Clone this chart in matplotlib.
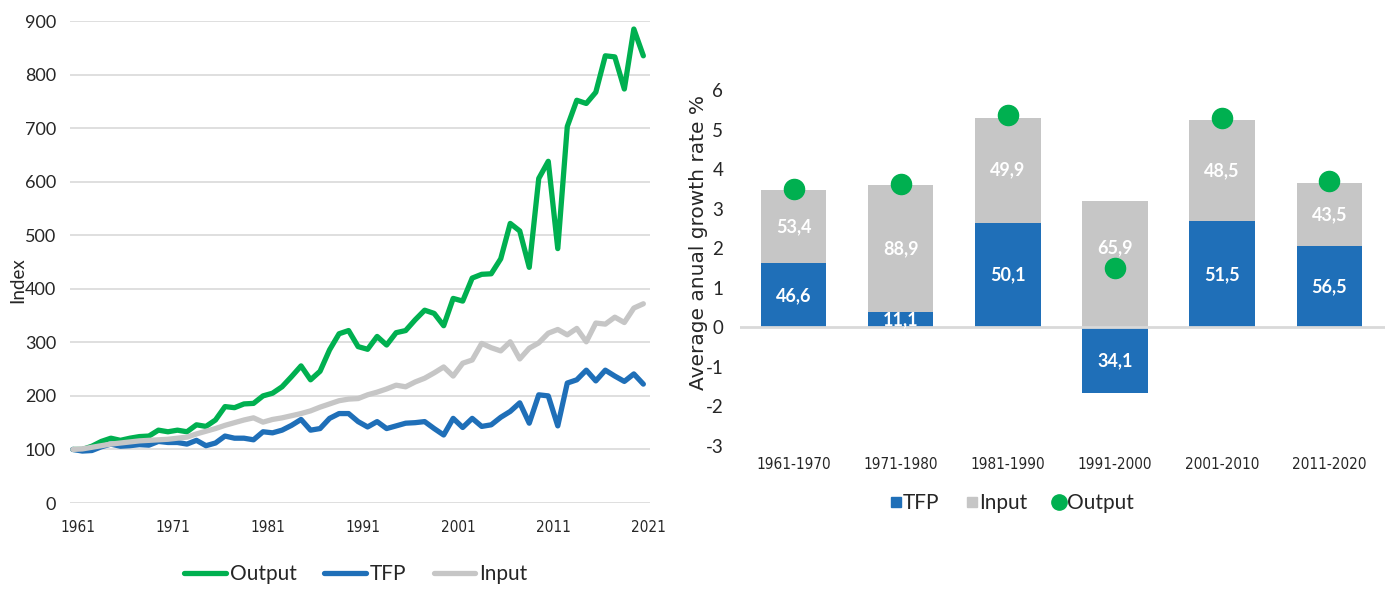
import matplotlib
matplotlib.use("Agg")
import matplotlib.pyplot as plt
import numpy as np
from matplotlib.lines import Line2D
from matplotlib.transforms import ScaledTranslation

# ---------------- data ----------------
years = list(range(1961, 2022))
output_index = [100, 100, 106, 115, 121, 117, 121, 124, 125, 136,
                133, 136, 133, 146, 143, 155, 180, 178, 185, 186,
                200, 205, 217, 236, 256, 230, 246, 286, 316, 322,
                292, 287, 311, 295, 318, 322, 342, 360, 354, 331,
                382, 377, 420, 427, 428, 456, 522, 508, 440, 606,
                638, 475, 703, 752, 746, 767, 835, 833, 773, 885,
                835]
tfp_index = [100, 97, 98, 105, 110, 106, 107, 109, 108, 115,
             113, 113, 110, 117, 107, 112, 125, 121, 121, 118,
             133, 131, 136, 145, 156, 136, 139, 158, 167, 167,
             152, 142, 152, 139, 144, 149, 150, 152, 139, 127,
             158, 141, 158, 143, 146, 160, 171, 187, 149, 202,
             200, 144, 224, 230, 248, 228, 248, 237, 227, 241,
             222]
input_index = [100, 101, 104, 107, 110, 112, 114, 116, 117, 118,
               119, 121, 123, 129, 134, 139, 145, 150, 155, 159,
               151, 156, 159, 163, 167, 172, 179, 185, 191, 194,
               195, 202, 207, 213, 220, 217, 226, 233, 243, 254,
               237, 261, 267, 298, 290, 284, 301, 269, 289, 299,
               317, 324, 314, 326, 301, 336, 334, 347, 337, 364,
               372]
year_ticks = [1961, 1971, 1981, 1991, 2001, 2011, 2021]
index_ticks = list(range(0, 1000, 100))

periods = ["1961-1970", "1971-1980", "1981-1990", "1991-2000", "2001-2010", "2011-2020"]
tfp_growth = [1.62, 0.38, 2.65, -1.67, 2.68, 2.05]
input_growth = [1.86, 3.23, 2.65, 3.20, 2.55, 1.61]
output_growth = [3.50, 3.63, 5.38, 1.49, 5.30, 3.69]
tfp_share = ["46,6", "11,1", "50,1", "34,1", "51,5", "56,5"]
input_share = ["53,4", "88,9", "49,9", "65,9", "48,5", "43,5"]
growth_ticks = list(range(-3, 7))

# ---------------- style ----------------
GREEN = "#00B050"
BLUE = "#1F6FB8"
GRAY = "#C6C6C6"
GRID = "#D9D9D9"
TEXT = "#262626"

plt.rcParams["font.family"] = ["Lato", "DejaVu Sans"]
plt.rcParams["axes.unicode_minus"] = False
plt.rcParams["text.color"] = TEXT
plt.rcParams["xtick.color"] = TEXT
plt.rcParams["ytick.color"] = TEXT

W, H = 1387, 589
fig = plt.figure(figsize=(W / 100, H / 100), dpi=100)

# ---------------- left: index lines ----------------
ax1 = fig.add_axes([70 / W, 1 - 503 / H, 580 / W, 482 / H])
lw = 3.8
l_out, = ax1.plot(years, output_index, color=GREEN, lw=lw, solid_joinstyle="round",
                  solid_capstyle="round", zorder=3, label="Output")
l_tfp, = ax1.plot(years, tfp_index, color=BLUE, lw=lw, solid_joinstyle="round",
                  solid_capstyle="round", zorder=4, label="TFP")
l_inp, = ax1.plot(years, input_index, color=GRAY, lw=lw, solid_joinstyle="round",
                  solid_capstyle="round", zorder=5, label="Input")
ax1.set_xlim(1960.7, 2021.7)
ax1.set_ylim(0, 900)
ax1.set_yticks(index_ticks)
ax1.set_xticks(year_ticks)
ax1.set_xticklabels([str(y) for y in year_ticks], family="DejaVu Sans", stretch="condensed")
ax1.grid(axis="y", color=GRID, lw=1.2, zorder=0)
ax1.set_axisbelow(True)
for s in ax1.spines.values():
    s.set_visible(False)
ax1.tick_params(axis="both", length=0)
ax1.tick_params(axis="y", labelsize=13, pad=10)
ax1.tick_params(axis="x", labelsize=11, pad=12)
off = ScaledTranslation(5 / 100, 0, fig.dpi_scale_trans)
for lab in ax1.get_xticklabels():
    lab.set_transform(lab.get_transform() + off)
fig.text(18 / W, 1 - 280 / H, "Index", rotation=90, ha="center", va="center", fontsize=13.5)

fig.legend(handles=[l_out, l_tfp, l_inp], loc="center",
           bbox_to_anchor=(356 / W, 1 - 574 / H), ncol=3, frameon=False,
           fontsize=15, handlelength=2.0, handletextpad=0.2, columnspacing=1.3)

# ---------------- right: growth decomposition ----------------
ax2 = fig.add_axes([740 / W, 1 - 446 / H, 645 / W, 356 / H])
x = np.arange(len(periods))
bw = 0.61
ax2.bar(x, tfp_growth, width=bw, color=BLUE, zorder=2)
input_bottom = [max(t, 0) for t in tfp_growth]
ax2.bar(x, input_growth, width=bw, bottom=input_bottom, color=GRAY, zorder=2)
ax2.axhline(0, color=GRID, lw=2, zorder=3)
ax2.plot(x, output_growth, "o", color=GREEN, ms=14.5, zorder=5)

for i in range(len(periods)):
    ax2.text(x[i], tfp_growth[i] / 2, tfp_share[i], ha="center", va="center",
             color="white", fontsize=13, fontweight="bold", zorder=6)
    yl = input_bottom[i] + input_growth[i] / 2
    if abs(output_growth[i] - yl) < 0.5:
        yl += 0.4
    ax2.text(x[i], yl, input_share[i], ha="center", va="center",
             color="white", fontsize=13, fontweight="bold", zorder=6)

ax2.set_xlim(-0.5, 5.52)
ax2.set_ylim(-3, 6)
ax2.set_yticks(growth_ticks)
ax2.set_xticks(x)
ax2.set_xticklabels(periods, family="DejaVu Sans", stretch="condensed")
for s in ax2.spines.values():
    s.set_visible(False)
ax2.tick_params(axis="both", length=0)
ax2.tick_params(axis="y", labelsize=13.5, pad=12)
ax2.tick_params(axis="x", labelsize=11, pad=8)
fig.text(698 / W, 1 - 242 / H, "Average anual growth rate %", rotation=90,
         ha="center", va="center", fontsize=14.5, family="DejaVu Sans")

h_tfp = Line2D([], [], ls="none", marker="s", ms=7, color=BLUE, label="TFP")
h_inp = Line2D([], [], ls="none", marker="s", ms=7, color=GRAY, label="Input")
h_out = Line2D([], [], ls="none", marker="o", ms=11, color=GREEN, label="Output")
fig.legend(handles=[h_tfp, h_inp, h_out], loc="center",
           bbox_to_anchor=(1012 / W, 1 - 503 / H), ncol=3, frameon=False,
           fontsize=15, handlelength=0.5, handletextpad=0.1, columnspacing=1.3)

fig.savefig("out.png", dpi=100)
